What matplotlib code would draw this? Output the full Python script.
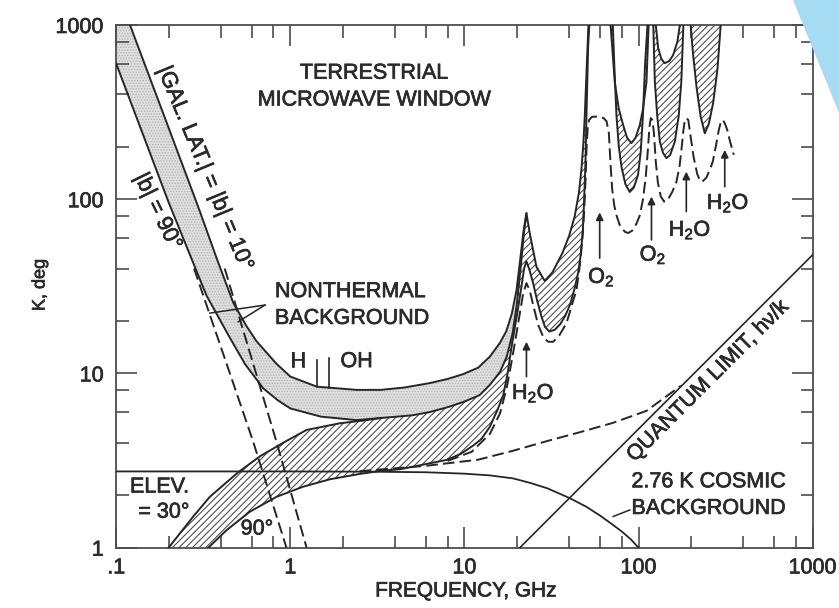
import numpy as np
import matplotlib
matplotlib.use("Agg")
import matplotlib.pyplot as plt
import matplotlib.patheffects as pe
from matplotlib.ticker import FixedLocator, FixedFormatter, NullFormatter
from matplotlib.patches import Polygon

plt.rcParams['font.family'] = ['Liberation Sans', 'DejaVu Sans']
plt.rcParams['mathtext.fontset'] = 'custom'
plt.rcParams['mathtext.rm'] = 'Liberation Sans'
plt.rcParams['mathtext.it'] = 'Liberation Sans:italic'
plt.rcParams['hatch.linewidth'] = 0.7

# ---------------- data ----------------
# nonthermal background, |b| = 10 deg (upper edge of stippled band)
nt10_x = [0.1, 0.12, 0.2, 0.3, 0.38, 0.47, 0.56, 0.64, 0.83, 1.0, 1.42, 2.4, 3.3, 4.5,
          6.3, 8.0, 9.8, 12.0, 14.0, 16.0, 17.4, 18.7, 19.9, 20.9, 21.8, 22.7]
nt10_y = [1600, 1000, 257, 87, 45, 25.5, 18.7, 15.3, 11.4, 9.6, 8.4, 8.05, 8.05, 8.3,
          8.8, 9.3, 9.9, 10.8, 12.5, 15.0, 17.5, 22.0, 30.0, 45.0, 65.0, 83.0]
# nonthermal background, |b| = 90 deg (lower edge of stippled band, low freq.)
nt90_x = [0.1, 0.2, 0.33, 0.45, 0.55, 0.7, 0.85, 1.0, 1.5, 2.4, 3.3]
nt90_y = [600, 96, 28, 16.0, 11.3, 8.2, 7.0, 6.3, 5.65, 5.4, 5.55]
# galactic emission only (dashed)
gal90_x = [0.28, 0.61, 0.95]
gal90_y = [40, 4.1, 1.0]
gal10_x = [0.42, 0.83, 1.24]
gal10_y = [40, 4.1, 1.0]
# atmosphere, elevation 30 deg (upper edge of hatched band)
e30_x = [0.2, 0.277, 0.345, 0.5, 0.67, 0.95, 1.24, 1.93, 2.6, 3.3, 5.0, 6.3, 8.0, 10.0,
         12.2, 14.0, 16.0, 17.5, 18.9, 20.0, 21.0, 22.0, 22.7, 23.7, 25.9, 28.9, 32.0,
         36.5, 40.0, 43.0, 45.5, 47.0, 48.2, 49.1, 50.0, 50.9, 51.8, 55.0, 65.0, 68.4,
         73.0, 77.0, 81.5, 86.0, 91.0, 96.0, 101.7, 106.0, 111.0, 114.8, 118.0, 124.0,
         129.5, 135.0, 141.0, 150.0, 158.0, 167.0, 176.0, 190.0, 330.0]
e30_y = [1.0, 1.51, 1.96, 2.7, 3.35, 4.1, 4.74, 5.18, 5.36, 5.55, 5.75, 6.0, 6.4, 6.9,
         7.5, 8.6, 10.2, 12.5, 17.0, 25.0, 40.0, 65.0, 83.0, 64.0, 41.0, 34.0, 38.0,
         49.0, 62.0, 80.0, 110.0, 150.0, 210.0, 300.0, 480.0, 740.0, 1140.0, 3000.0,
         3000.0, 1140.0, 470.0, 330.0, 267.0, 225.0, 210.0, 225.0, 267.0, 330.0, 470.0,
         1140.0, 3000.0, 1140.0, 740.0, 640.0, 604.0, 620.0, 673.0, 800.0, 1140.0,
         3000.0, 3000.0]
# atmosphere, zenith (lower edge of hatched band)
e90_x = [0.338, 0.43, 0.586, 0.834, 1.186, 1.687, 2.5, 3.3, 4.26, 5.1, 6.3, 7.9, 9.5,
         11.2, 12.5, 14.0, 15.5, 16.7, 17.7, 18.6, 19.5, 20.3, 21.2, 22.0, 22.7, 23.5,
         24.8, 26.2, 27.7, 29.0, 30.7, 33.0, 35.5, 38.0, 40.5, 43.0, 45.0, 46.5, 47.8,
         48.7, 49.5, 50.2, 51.3, 52.5, 60.0, 70.8, 72.5, 74.6, 77.0, 79.8, 84.0, 89.0,
         94.0, 99.3, 103.0, 106.0, 109.0, 113.4, 118.0, 121.0, 124.0, 128.0, 132.5,
         138.0, 144.5, 152.0, 161.5, 170.0, 176.0, 179.0, 181.7, 190.0, 197.0, 205.0,
         215.0, 227.0, 240.0, 253.0, 268.0, 284.0, 299.0, 330.0]
e90_y = [1.0, 1.26, 1.61, 1.96, 2.24, 2.47, 2.65, 2.76, 2.82, 2.92, 3.05, 3.19, 3.45,
         3.85, 4.2, 4.95, 6.2, 7.5, 10.0, 14.0, 18.5, 23.5, 31.0, 40.0, 44.0, 40.0,
         33.0, 26.0, 21.2, 18.5, 17.4, 17.8, 19.2, 21.5, 25.0, 31.0, 38.0, 48.0, 65.0,
         100.0, 157.0, 300.0, 740.0, 1140.0, 3000.0, 1140.0, 600.0, 305.0, 200.0, 153.0,
         122.0, 110.0, 117.0, 138.0, 190.0, 305.0, 600.0, 1140.0, 3000.0, 1140.0, 473.0,
         300.0, 214.0, 185.0, 172.0, 180.0, 214.0, 300.0, 473.0, 750.0, 1140.0, 3000.0,
         1140.0, 700.0, 443.0, 300.0, 239.0, 270.0, 356.0, 560.0, 1140.0, 3000.0]
# dashed atmospheric curve with O2 / H2O lines
dry_x = [8.0, 11.0, 14.0, 16.0, 17.5, 18.6, 19.7, 20.7, 21.7, 22.7, 23.7, 25.0, 26.5,
         28.5, 30.3, 32.3, 35.0, 38.5, 40.3, 42.0, 44.0, 46.0, 47.5, 48.7, 49.6, 50.3,
         51.0, 52.0, 54.0, 57.0, 60.0, 63.0, 65.5, 67.5, 69.0, 70.5, 72.5, 74.6, 78.0,
         83.4, 87.1, 92.0, 97.0, 101.7, 106.0, 110.0, 113.0, 115.5, 117.5, 120.0, 122.5,
         125.5, 129.0, 134.0, 140.0, 146.0, 156.0, 165.0, 172.0, 177.0, 181.0, 184.0,
         188.0, 193.0, 199.0, 207.0, 217.0, 225.0, 232.0, 245.0, 257.0, 267.0, 280.0,
         289.0, 297.0, 305.0, 313.0, 323.0, 335.0, 352.0]
dry_y = [3.15, 3.55, 4.5, 5.9, 8.3, 11.5, 16.0, 21.5, 28.5, 33.0, 30.0, 24.0, 19.0,
         16.0, 15.2, 15.2, 16.5, 19.4, 22.5, 26.0, 30.0, 42.0, 58.0, 85.0, 130.0, 200.0,
         255.0, 285.0, 297.0, 298.0, 297.0, 292.0, 280.0, 240.0, 160.0, 115.0, 92.0,
         81.0, 71.0, 65.0, 64.0, 66.0, 72.0, 81.0, 100.0, 135.0, 190.0, 260.0, 292.0,
         285.0, 240.0, 165.0, 125.0, 104.0, 97.0, 98.0, 110.0, 126.0, 155.0, 200.0,
         250.0, 280.0, 292.0, 285.0, 229.0, 175.0, 140.0, 128.0, 126.0, 133.0, 148.0,
         165.0, 210.0, 250.0, 278.0, 285.0, 272.0, 250.0, 215.0, 180.0]
# 2.76 K cosmic background
cmb_x = [0.1, 1.0, 3.0, 6.0, 10.0, 14.0, 19.0, 24.0, 30.0, 40.0, 50.0, 60.0, 70.0,
         80.0, 90.0, 100.0]
cmb_y = [2.74, 2.74, 2.73, 2.71, 2.66, 2.6, 2.5, 2.35, 2.19, 1.93, 1.72, 1.53, 1.37,
         1.24, 1.12, 1.0]
# cosmic background + quantum limit (dashed)
cmbq_x = [2.5, 6.0, 12.0, 19.0, 30.0, 46.0, 71.0, 111.0, 150.0, 175.0]
cmbq_y = [2.75, 2.95, 3.2, 3.6, 4.1, 4.6, 5.2, 6.1, 7.6, 8.5]
# quantum limit h nu / k
ql_x = [20.8, 1000.0]
ql_y = [1.0, 48.0]

x_ticks = [0.1, 1, 10, 100, 1000]
x_tick_labels = ['.1', '1', '10', '100', '1000']
y_ticks = [1, 10, 100, 1000]
y_tick_labels = ['1', '10', '100', '1000']

# ---------------- figure ----------------
W, H = 839, 608
fig = plt.figure(figsize=(W / 100, H / 100), dpi=100)
L, R, T, B = 116.2, 812.7, 25.0, 547.7
ax = fig.add_axes([L / W, 1 - B / H, (R - L) / W, (B - T) / H])
ax.set_xscale('log')
ax.set_yscale('log')
ax.set_xlim(0.1, 1000)
ax.set_ylim(1, 1000)

ink = '#262626'
lw = 1.4
dash = (0, (6, 2.6))

# stippled band (nonthermal background)
nt10_x_a, nt10_y_a = np.array(nt10_x), np.array(nt10_y)
nt90_x_a, nt90_y_a = np.array(nt90_x), np.array(nt90_y)
e30_x_a, e30_y_a = np.array(e30_x), np.array(e30_y)
e90_x_a, e90_y_a = np.array(e90_x), np.array(e90_y)
m = (e30_x_a > nt90_x_a[-1]) & (e30_x_a <= nt10_x_a[-1])
stip_x = np.concatenate([nt10_x_a, e30_x_a[m][::-1], nt90_x_a[::-1]])
stip_y = np.concatenate([nt10_y_a, e30_y_a[m][::-1], nt90_y_a[::-1]])
ax.fill(stip_x, stip_y, facecolor='#e0e0e0', edgecolor='#b4b4b4', linewidth=0,
        hatch='......', zorder=1)

# hatched band (atmosphere, 30 deg to zenith)
hat_x = np.concatenate([e30_x_a, e90_x_a[::-1]])
hat_y = np.concatenate([e30_y_a, e90_y_a[::-1]])
ax.fill(hat_x, hat_y, facecolor='white', edgecolor='#3a3a3a', linewidth=0,
        hatch='/////', zorder=1)

# lines
ax.plot(nt10_x, nt10_y, color=ink, lw=lw, zorder=3)
ax.plot(nt90_x, nt90_y, color=ink, lw=lw, zorder=3)
ax.plot(e30_x, e30_y, color=ink, lw=lw, zorder=3)
ax.plot(e90_x, e90_y, color=ink, lw=lw, zorder=3)
ax.plot(gal90_x, gal90_y, color=ink, lw=lw, ls=dash, zorder=3)
ax.plot(gal10_x, gal10_y, color=ink, lw=lw, ls=dash, zorder=3)
ax.plot(dry_x, dry_y, color=ink, lw=lw, ls=dash, zorder=3)
ax.plot(cmbq_x, cmbq_y, color=ink, lw=lw, ls=dash, zorder=3)
ax.plot(cmb_x, cmb_y, color=ink, lw=1.3, zorder=3)
ax.plot(ql_x, ql_y, color=ink, lw=1.2, zorder=3)

# axes styling
for s in ax.spines.values():
    s.set_color('#4d4d4d')
    s.set_linewidth(1.3)
ax.xaxis.set_major_locator(FixedLocator(x_ticks))
ax.xaxis.set_major_formatter(FixedFormatter(x_tick_labels))
ax.yaxis.set_major_locator(FixedLocator(y_ticks))
ax.yaxis.set_major_formatter(FixedFormatter(y_tick_labels))
minor_x = [d * s for d in [0.1, 1, 10, 100] for s in (2, 4, 6, 8)]
minor_y = [d * s for d in [1, 10, 100] for s in (2, 4, 6, 8)]
ax.xaxis.set_minor_locator(FixedLocator(minor_x))
ax.yaxis.set_minor_locator(FixedLocator(minor_y))
ax.xaxis.set_minor_formatter(NullFormatter())
ax.yaxis.set_minor_formatter(NullFormatter())
ax.tick_params(which='both', direction='in', top=True, right=True,
               color='#4d4d4d', width=1.2, labelsize=15.5, labelcolor='#2b2b2b')
ax.tick_params(which='major', length=15)
ax.tick_params(which='minor', length=9)
ax.tick_params(axis='x', which='major', pad=7)
ax.tick_params(axis='y', which='major', pad=9)

tc = '#2b2b2b'
thick = [pe.withStroke(linewidth=0.5, foreground=tc)]

ax.set_xlabel('FREQUENCY, GHz', fontsize=15, color=tc, va='center')
ax.xaxis.set_label_coords((466 - L) / (R - L), -(591 - B) / (B - T))
ax.set_ylabel('K, deg', fontsize=13, color=tc, va='center')
ax.yaxis.set_label_coords(-(L - 40) / (R - L), (B - 285) / (B - T))

fs = 15.5
ax.text(3.02, 529, 'TERRESTRIAL', fontsize=fs, color=tc, ha='center', va='center')
ax.text(3.02, 371, 'MICROWAVE WINDOW', fontsize=fs, color=tc, ha='center', va='center')
ax.text(0.816, 29.5, 'NONTHERMAL', fontsize=fs, color=tc, ha='left', va='center')
ax.text(0.816, 20.7, 'BACKGROUND', fontsize=fs, color=tc, ha='left', va='center')
ax.text(1.11, 11.7, 'H', fontsize=fs, color=tc, ha='center', va='center')
ax.text(2.40, 11.7, 'OH', fontsize=fs, color=tc, ha='center', va='center')
ax.text(0.12, 2.23, 'ELEV.', fontsize=fs, color=tc, ha='left', va='center')
ax.text(0.134, 1.6, '= 30°', fontsize=fs, color=tc, ha='left', va='center')
ax.text(0.643, 1.28, '90°', fontsize=fs, color=tc, ha='center', va='center')
ax.text(91, 2.39, '2.76 K COSMIC', fontsize=fs, color=tc, ha='left', va='center')
ax.text(91, 1.68, 'BACKGROUND', fontsize=fs, color=tc, ha='left', va='center')
ax.text(250, 9.0, 'QUANTUM LIMIT, hν/k', fontsize=fs, color=tc, ha='center',
        va='center', rotation=45, rotation_mode='anchor')
ax.text(0.322, 150, '|GAL. LAT.| = |b| = 10°', fontsize=16, color=tc, ha='center',
        va='center', rotation=-67.5, rotation_mode='anchor')
ax.text(0.1726, 84.9, '|b| = 90°', fontsize=16, color=tc, ha='center',
        va='center', rotation=-64, rotation_mode='anchor')

h2o = r'H$_{\mathregular{2}}$O'
o2 = r'O$_{\mathregular{2}}$'
ax.text(24.8, 7.7, h2o, fontsize=fs, color=tc, ha='center', va='center')
ax.text(61.2, 35.7, o2, fontsize=fs, color=tc, ha='center', va='center')
ax.text(121, 47.9, o2, fontsize=fs, color=tc, ha='center', va='center')
ax.text(197, 66.5, h2o, fontsize=fs, color=tc, ha='center', va='center')
ax.text(326, 94.9, h2o, fontsize=fs, color=tc, ha='center', va='center')

# line markers H / OH
ax.plot([1.42, 1.42], [8.35, 11.9], color=ink, lw=1.2, zorder=3)
ax.plot([1.67, 1.67], [8.3, 12.2], color=ink, lw=1.2, zorder=3)

# arrows
arrows = [(22.7, 9.59, 15.2), (59.8, 45.9, 84.0), (118.6, 58.4, 103.5),
          (188, 84.9, 144), (312.6, 118, 192)]
for xa, y0, y1 in arrows:
    ax.annotate('', xy=(xa, y1), xytext=(xa, y0),
                arrowprops=dict(arrowstyle='-|>', color=ink, lw=1.2,
                                mutation_scale=11, shrinkA=0, shrinkB=0), zorder=4)

# leader lines
ax.plot([0.715, 0.345], [24.7, 22.2], color=ink, lw=1.1, zorder=3)
ax.plot([0.715, 0.502], [24.7, 19.8], color=ink, lw=1.1, zorder=3)
ax.plot([89, 71.4], [1.646, 1.51], color=ink, lw=1.1, zorder=3)

# slightly heavier strokes for all text, like the printed original
for t in ax.texts + ax.get_xticklabels() + ax.get_yticklabels() + \
        [ax.xaxis.label, ax.yaxis.label]:
    t.set_path_effects(thick)

# light-blue slide decoration at the top-right corner
tri = Polygon([[793 / W, 1.0], [1.0, 1.0], [1.0, 1 - 113 / H]], closed=True,
              transform=fig.transFigure, facecolor='#a6dcf3', edgecolor='none',
              zorder=10)
fig.patches.append(tri)

fig.savefig('out.png', dpi=100)
